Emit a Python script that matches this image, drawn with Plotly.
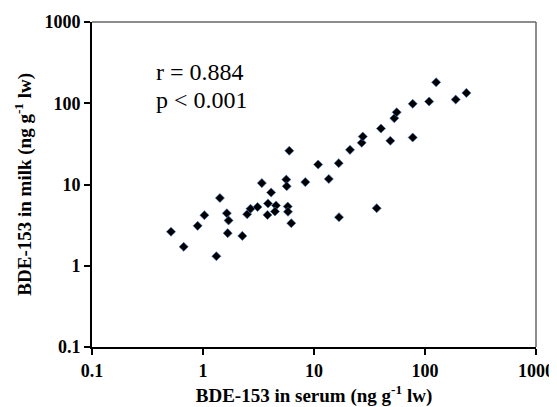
import plotly.graph_objects as go

serum = [0.515, 0.67, 0.895, 1.03, 1.42, 1.64, 1.70, 1.67, 1.32, 2.26,
         2.50, 2.68, 3.10, 3.39, 4.11, 3.85, 4.55, 4.45, 3.81, 5.80,
         5.83, 6.24, 5.99, 5.63, 5.68, 8.35, 13.6, 10.9, 16.7, 21.1,
         16.8, 36.7, 26.9, 27.5, 40.1, 48.7, 52.9, 55.6, 77.5, 77.5,
         109, 126, 189, 236]
milk = [2.62, 1.71, 3.10, 4.19, 6.82, 4.43, 3.61, 2.52, 1.31, 2.33,
        4.31, 5.04, 5.29, 10.4, 7.97, 5.84, 5.52, 4.66, 4.22, 5.36,
        4.62, 3.34, 26.0, 11.5, 9.53, 10.7, 11.7, 17.6, 18.3, 26.7,
        3.96, 5.11, 32.6, 38.9, 48.8, 34.5, 65.4, 77.5, 98.4, 37.9,
        105, 181, 111, 134]

tick_vals = [0.1, 1, 10, 100, 1000]
tick_text = ["0.1", "1", "10", "100", "1000"]

x_title = "BDE-153 in serum (ng g<sup>-1</sup> lw)"
y_title = "BDE-153 in milk (ng g<sup>-1</sup> lw)"
stat_lines = ["r = 0.884", "p < 0.001"]

fig = go.Figure()
fig.add_trace(go.Scatter(
    x=serum, y=milk, mode="markers",
    marker=dict(symbol="diamond", size=7, color="#000000",
                line=dict(color="#3b6fc0", width=0.6)),
    showlegend=False, hoverinfo="skip"))

for line, ypos in zip(stat_lines, [0.846, 0.760]):
    fig.add_annotation(text=line, x=0.14, y=ypos, xref="paper", yref="paper",
                       xanchor="left", yanchor="middle", showarrow=False,
                       font=dict(family="Liberation Serif", size=24, color="#000000"))

# y-axis title as a rotated annotation for precise placement
fig.add_annotation(text="<b>" + y_title + "</b>", x=-0.155, y=0.5,
                   xref="paper", yref="paper", xanchor="center", yanchor="middle",
                   textangle=-90, showarrow=False,
                   font=dict(family="Liberation Serif", size=19, color="#000000"))

# top and right frame lines (grey)
fig.add_shape(type="line", xref="paper", yref="paper", x0=0, x1=1, y0=1, y1=1,
              line=dict(color="#666666", width=1.5))
fig.add_shape(type="line", xref="paper", yref="paper", x0=1, x1=1, y0=0, y1=1,
              line=dict(color="#666666", width=1.5))

axis_common = dict(
    type="log", tickvals=tick_vals, ticktext=tick_text, automargin=False,
    showgrid=False, zeroline=False, showline=True, linecolor="#000000",
    linewidth=2, ticks="outside", ticklen=6, tickwidth=1.5, tickcolor="#000000",
    tickfont=dict(family="Liberation Serif", size=18, color="#000000", weight="bold"),
)

fig.update_xaxes(range=[-1, 3], title=dict(text="<b>" + x_title + "</b>", standoff=10,
                 font=dict(family="Liberation Serif", size=19, color="#000000")),
                 **axis_common)
fig.update_yaxes(range=[-1, 3], **axis_common)

# page body has an 8px default margin, so the figure is shrunk and shifted by 8px
fig.update_layout(width=549, height=399, margin=dict(l=84, r=21, t=14, b=60),
                  plot_bgcolor="#ffffff", paper_bgcolor="#ffffff")

fig.write_html("out.html")
